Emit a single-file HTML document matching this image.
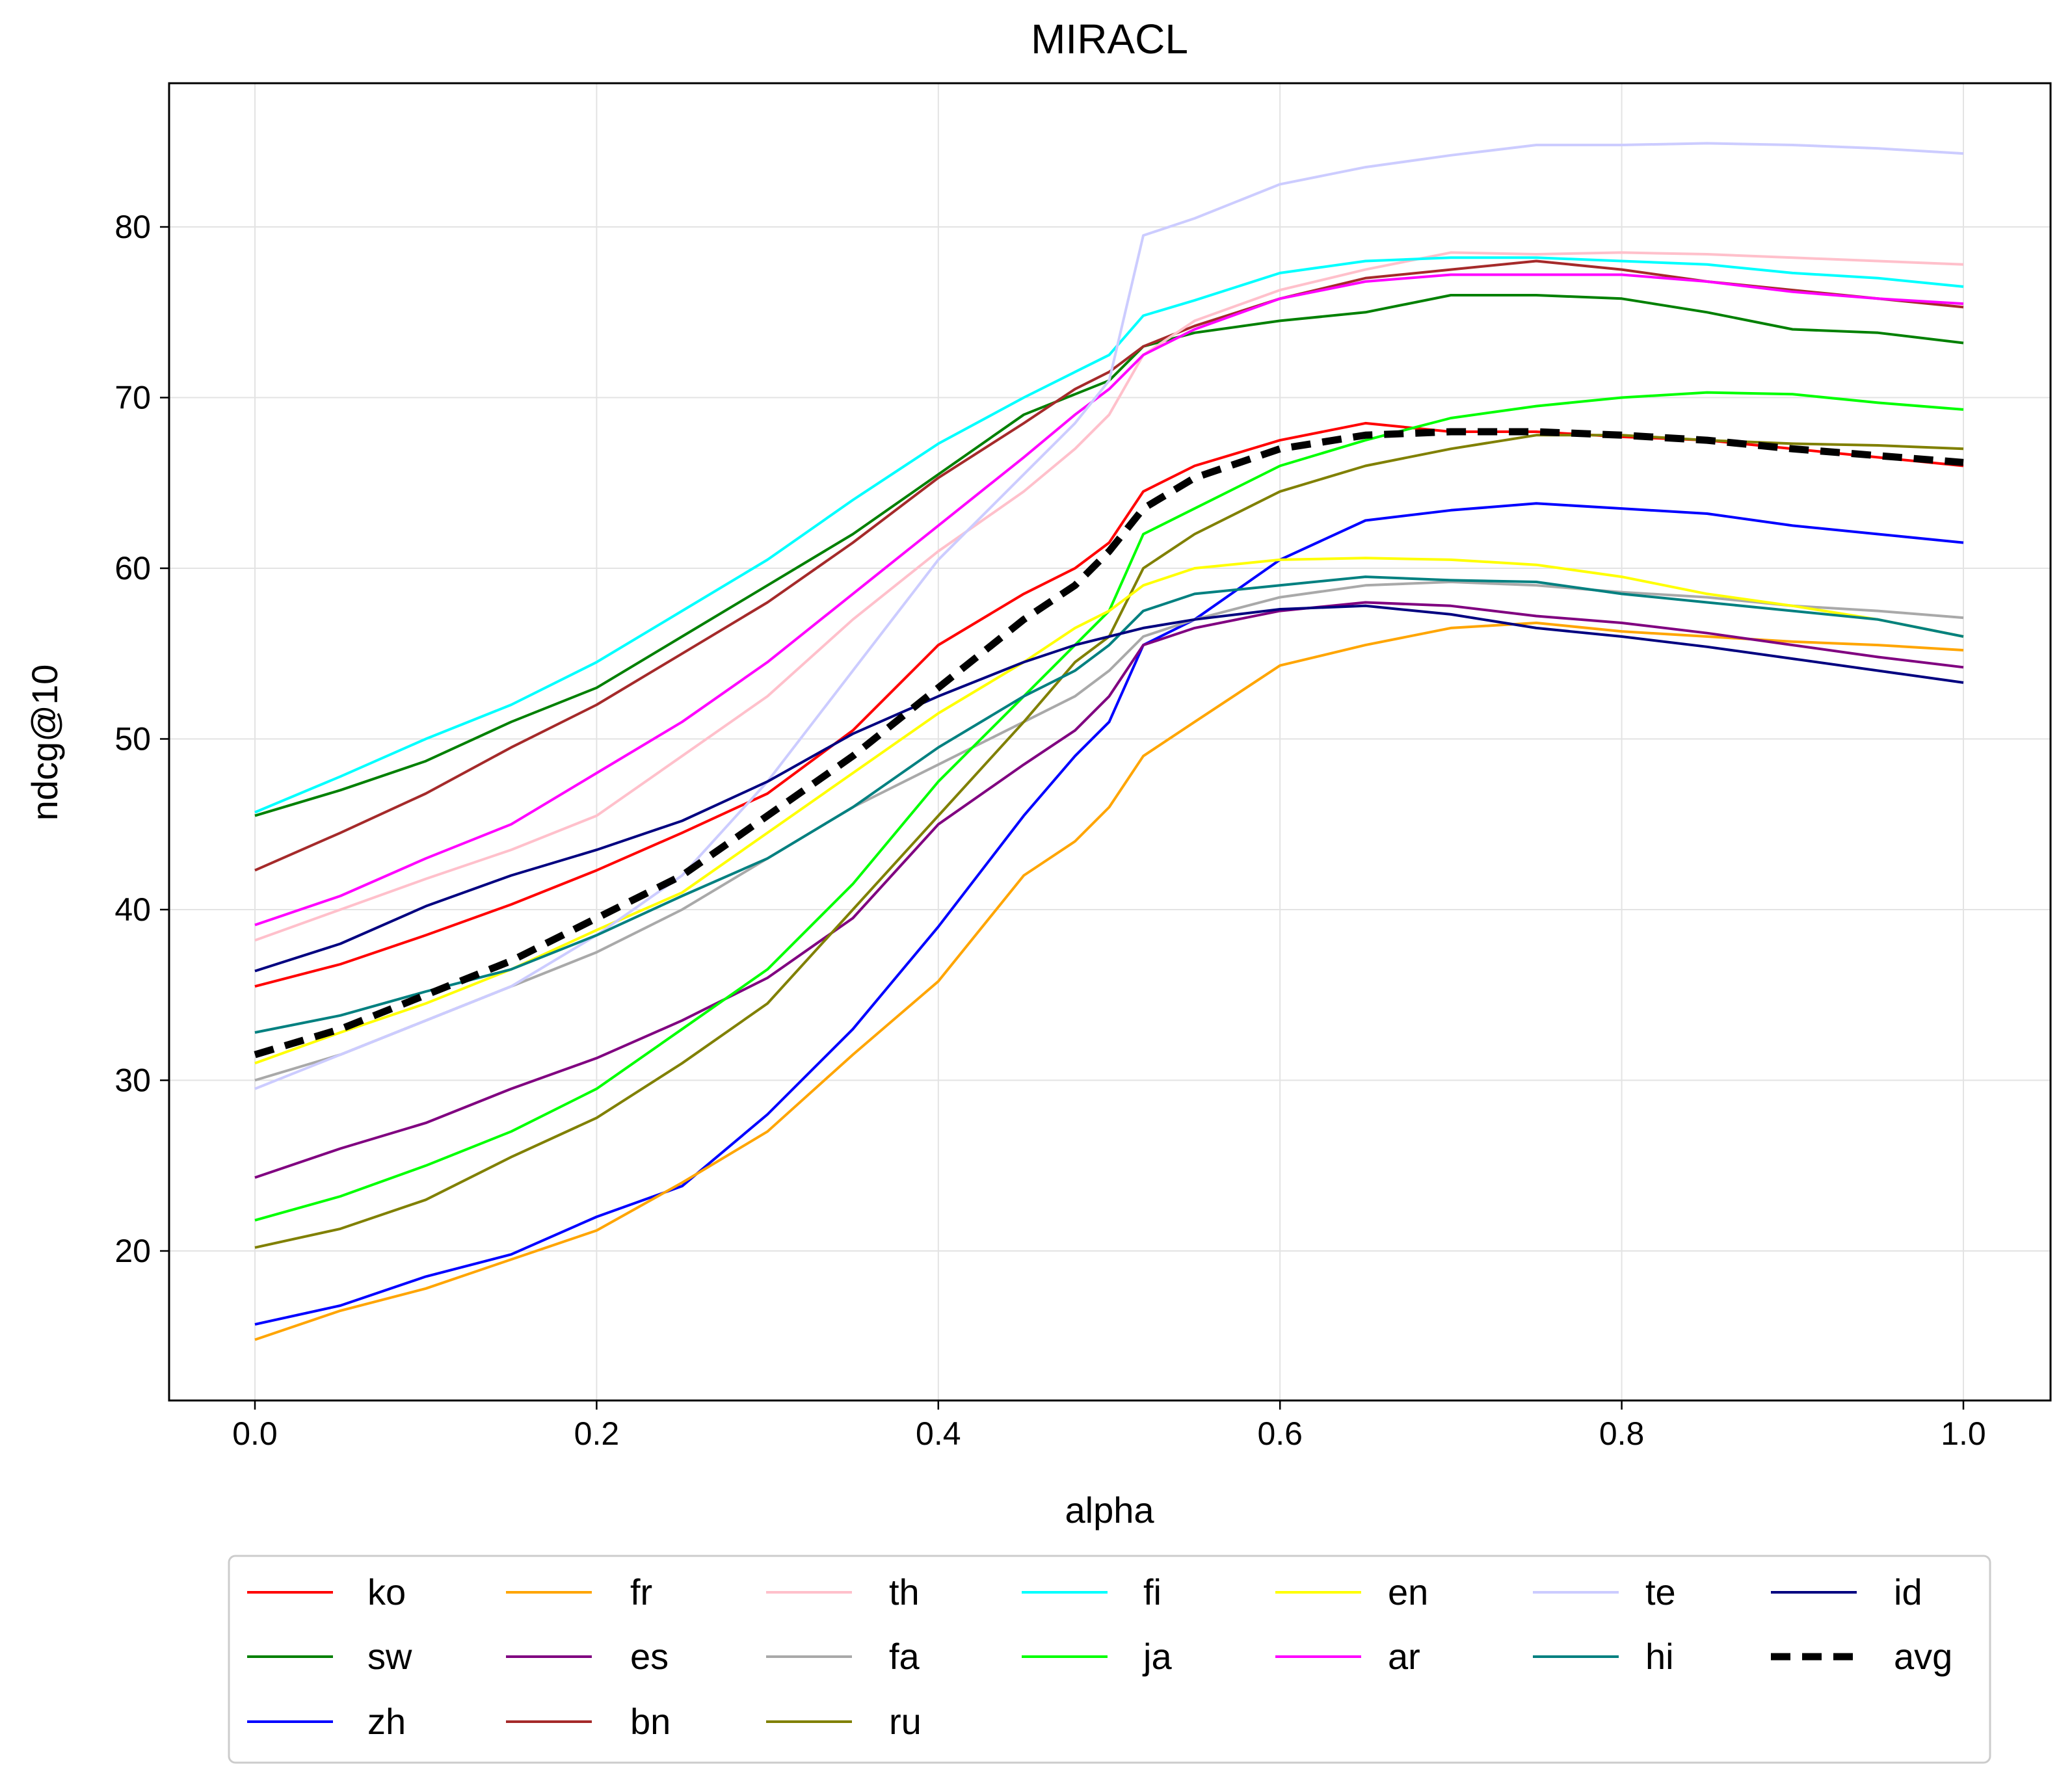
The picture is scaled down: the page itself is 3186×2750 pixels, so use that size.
<!DOCTYPE html>
<html><head><meta charset="utf-8"><style>
html,body{margin:0;padding:0;background:#fff;}
svg{display:block;font-family:"Liberation Sans","DejaVu Sans",sans-serif;}
</style></head><body>
<svg id="chart" width="3186" height="2750" viewBox="0 0 3186 2750" xmlns="http://www.w3.org/2000/svg">
<rect width="3186" height="2750" fill="#fff"/>
<text x="1706" y="82" font-size="64" text-anchor="middle">MIRACL</text>
<g id="grid"></g>
<g id="series"></g>
<rect x="260" y="128" width="2893" height="2026" fill="none" stroke="#000" stroke-width="3"/>
<g id="ticks"></g>
<text x="1706" y="2342" font-size="56" text-anchor="middle">alpha</text>
<text x="0" y="0" font-size="56" text-anchor="middle" transform="translate(88,1142) rotate(-90)">ndcg@10</text>
<rect x="352" y="2393" width="2708" height="318" rx="10" fill="#fff" stroke="#ccc" stroke-width="3"/>
<g id="legend"></g>
</svg>
<script>
const alphas=[0,.05,.1,.15,.2,.25,.3,.35,.4,.45,.48,.5,.52,.55,.6,.65,.7,.75,.8,.85,.9,.95,1];
const xTicks=[0,0.2,0.4,0.6,0.8,1.0];
const xTickLabels=["0.0","0.2","0.4","0.6","0.8","1.0"];
const yTicks=[20,30,40,50,60,70,80];
const names=["ko","sw","zh","fr","es","bn","th","fa","ru","fi","ja","en","ar","te","hi","id","avg"];
const colors=["#ff0000","#008000","#0000ff","#ffa500","#800080","#a52a2a","#ffc0cb","#a9a9a9","#808000","#00ffff","#00ff00","#ffff00","#ff00ff","#ccccff","#008080","#000080","#000000"];
const ko=[35.5,36.8,38.5,40.3,42.3,44.5,46.8,50.5,55.5,58.5,60,61.5,64.5,66,67.5,68.5,68,68,67.7,67.5,67,66.5,66];
const sw=[45.5,47,48.7,51,53,56,59,62,65.5,69,70.2,71,73,73.8,74.5,75,76,76,75.8,75,74,73.8,73.2];
const zh=[15.7,16.8,18.5,19.8,22,23.8,28,33,39,45.5,49,51,55.5,57,60.5,62.8,63.4,63.8,63.5,63.2,62.5,62,61.5];
const fr=[14.8,16.5,17.8,19.5,21.2,24,27,31.5,35.8,42,44,46,49,51,54.3,55.5,56.5,56.8,56.3,56,55.7,55.5,55.2];
const es=[24.3,26,27.5,29.5,31.3,33.5,36,39.5,45,48.5,50.5,52.5,55.5,56.5,57.5,58,57.8,57.2,56.8,56.2,55.5,54.8,54.2];
const bn=[42.3,44.5,46.8,49.5,52,55,58,61.5,65.3,68.5,70.5,71.5,73,74.2,75.8,77,77.5,78,77.5,76.8,76.3,75.8,75.3];
const th=[38.2,40,41.8,43.5,45.5,49,52.5,57,61,64.5,67,69,72.5,74.5,76.3,77.5,78.5,78.4,78.5,78.4,78.2,78,77.8];
const fa=[30,31.5,33.5,35.5,37.5,40,43,46,48.5,51,52.5,54,56,57,58.3,59,59.2,59,58.6,58.3,57.8,57.5,57.1];
const ru=[20.2,21.3,23,25.5,27.8,31,34.5,40,45.5,51,54.5,56,60,62,64.5,66,67,67.8,67.8,67.5,67.3,67.2,67];
const fi=[45.7,47.8,50,52,54.5,57.5,60.5,64,67.3,70,71.5,72.5,74.8,75.7,77.3,78,78.2,78.2,78,77.8,77.3,77,76.5];
const ja=[21.8,23.2,25,27,29.5,33,36.5,41.5,47.5,52.5,55.5,57.5,62,63.5,66,67.5,68.8,69.5,70,70.3,70.2,69.7,69.3];
const en=[31,32.8,34.5,36.5,38.8,41,44.5,48,51.5,54.5,56.5,57.5,59,60,60.5,60.6,60.5,60.2,59.5,58.5,57.8,57,56];
const ar=[39.1,40.8,43,45,48,51,54.5,58.5,62.5,66.5,69,70.5,72.5,74,75.8,76.8,77.2,77.2,77.2,76.8,76.2,75.8,75.5];
const te=[29.5,31.5,33.5,35.5,38.5,42,47.5,54,60.5,65.5,68.5,71,79.5,80.5,82.5,83.5,84.2,84.8,84.8,84.9,84.8,84.6,84.3];
const hi=[32.8,33.8,35.2,36.5,38.5,40.8,43,46,49.5,52.5,54,55.5,57.5,58.5,59,59.5,59.3,59.2,58.5,58,57.5,57,56];
const id=[36.4,38,40.2,42,43.5,45.2,47.5,50.3,52.5,54.5,55.5,56,56.5,57,57.6,57.8,57.3,56.5,56,55.4,54.7,54,53.3];
const avg=[31.5,33,35,37,39.5,42,45.5,49,53,57,59,61,63.5,65.3,67,67.8,68,68,67.8,67.5,67,66.6,66.2];
const seriesData=[ko,sw,zh,fr,es,bn,th,fa,ru,fi,ja,en,ar,te,hi,id,avg];

const NS="http://www.w3.org/2000/svg";
function xs(a){return 392+a*(3019-392);}
function ys(v){return 1924-(v-20)*(1924-349)/60;}
function mk(tag,attrs,parent){const e=document.createElementNS(NS,tag);for(const k in attrs)e.setAttribute(k,attrs[k]);parent.appendChild(e);return e;}
const grid=document.getElementById('grid'),ticks=document.getElementById('ticks'),ser=document.getElementById('series'),leg=document.getElementById('legend');
xTicks.forEach((t,i)=>{
  const x=xs(t);
  const g=mk('line',{x1:x,x2:x,y1:128,y2:2154,stroke:'#e3e3e3','stroke-width':2},grid);
  
  
  const tk=mk('line',{x1:x,x2:x,y1:2154,y2:2168,stroke:'#000','stroke-width':2.5},ticks);
  
  
  const tl=mk('text',{x:x,y:2222,'font-size':50,'text-anchor':'middle'},ticks);
  tl.textContent=xTickLabels[i];
  
  
});
yTicks.forEach(t=>{
  const y=ys(t);
  const g=mk('line',{x1:260,x2:3153,y1:y,y2:y,stroke:'#e3e3e3','stroke-width':2},grid);
  
  
  const tk=mk('line',{x1:246,x2:260,y1:y,y2:y,stroke:'#000','stroke-width':2.5},ticks);
  
  
  const tl=mk('text',{x:232,y:y+17,'font-size':50,'text-anchor':'end'},ticks);
  tl.textContent=String(t);
  
  
});
seriesData.forEach((d,i)=>{
  const pts=d.map((v,j)=>xs(alphas[j]).toFixed(1)+','+ys(v).toFixed(1)).join(' ');
  const isAvg=names[i]==='avg';
  const p=mk('polyline',{points:pts,fill:'none',stroke:colors[i],'stroke-width':isAvg?11:4,'stroke-linejoin':'round','stroke-dasharray':isAvg?'30 18':'none'},ser);
  
  
});
const colLineX=[380,778,1178,1571,1961,2357,2723];
const colTextX=[565,969,1367,1758,2134,2530,2912];
const rowY=[2449,2548,2648];
const layout=[["ko","sw","zh"],["fr","es","bn"],["th","fa","ru"],["fi","ja"],["en","ar"],["te","hi"],["id","avg"]];
layout.forEach((col,c)=>col.forEach((n,r)=>{
  const i=names.indexOf(n);const isAvg=n==='avg';
  const l=mk('line',{x1:colLineX[c],x2:colLineX[c]+132,y1:rowY[r],y2:rowY[r],stroke:colors[i],'stroke-width':isAvg?11:4,'stroke-dasharray':isAvg?'30 18':'none'},leg);
  
  
  const t=mk('text',{x:colTextX[c],y:rowY[r]+19,'font-size':56},leg);
  t.textContent=n;
  
  
}));
</script>
</body></html>
